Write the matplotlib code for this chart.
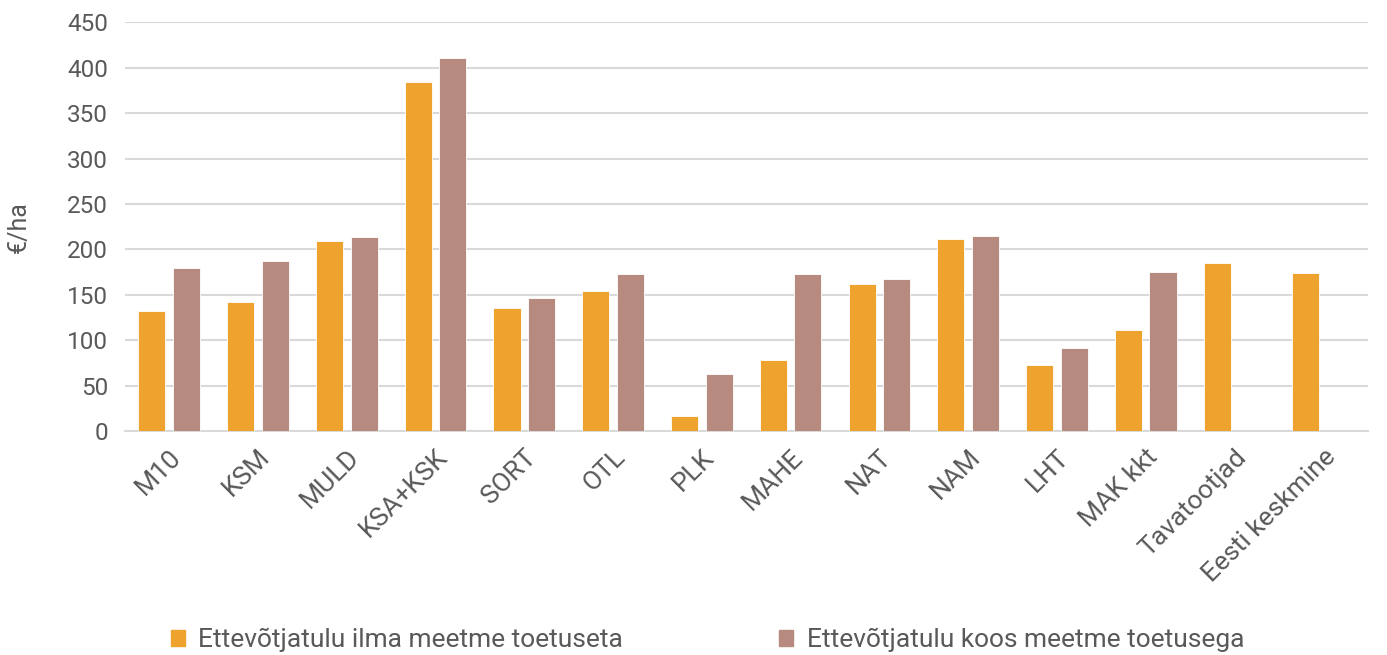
import numpy as np
import matplotlib
matplotlib.use("Agg")
import matplotlib.pyplot as plt
from matplotlib.patches import Patch

plt.rcParams["font.family"] = ["Roboto", "DejaVu Sans"]

categories = ["M10", "KSM", "MULD", "KSA+KSK", "SORT", "OTL", "PLK", "MAHE",
              "NAT", "NAM", "LHT", "MAK kkt", "Tavatootjad", "Eesti keskmine"]
ilma_toetuseta = [132, 142, 209, 384, 135, 154, 16, 78, 162, 211, 73, 111, 185, 174]
koos_toetusega = [179, 187, 214, 411, 146, 173, 63, 173, 167, 215, 91, 175, np.nan, np.nan]
yticks = list(range(0, 451, 50))

orange = "#EFA32F"
brown = "#B68A7E"
txt = "#595959"
grid = "#D9D9D9"

fig = plt.figure(figsize=(13.87, 6.55), dpi=100)
ax = fig.add_axes([0.090, 0.342, 0.896, 0.624])

x = np.arange(len(categories))
ax.bar(x - 0.195, ilma_toetuseta, width=0.305, color=orange, edgecolor="white", linewidth=0.6, zorder=3)
ax.bar(x + 0.195, koos_toetusega, width=0.305, color=brown, edgecolor="white", linewidth=0.6, zorder=3)

ax.set_xlim(-0.5, len(categories) - 0.5)
ax.set_ylim(0, 450)
ax.set_yticks(yticks)
ax.yaxis.grid(True, color=grid, linewidth=1.5, zorder=0)
ax.set_axisbelow(True)
for s in ["top", "right", "left"]:
    ax.spines[s].set_visible(False)
ax.spines["bottom"].set_color(grid)
ax.spines["bottom"].set_linewidth(1.5)
ax.tick_params(axis="both", length=0, labelcolor=txt)
ax.tick_params(axis="y", labelsize=17.5, pad=12)

ax.set_xticks(x)
ax.set_xticklabels(categories, rotation=45, ha="right", rotation_mode="anchor")
ax.tick_params(axis="x", labelsize=19, pad=10)

ax.set_ylabel("€/ha", fontsize=18, color=txt, labelpad=26)

handles = [Patch(color=orange), Patch(color=brown)]
labels = ["Ettevõtjatulu ilma meetme toetuseta", "Ettevõtjatulu koos meetme toetusega"]
fig.legend(handles, labels, loc="center", bbox_to_anchor=(0.51, 0.023), ncol=2,
           frameon=False, fontsize=19, labelcolor=txt, handlelength=0.55, handleheight=0.55,
           handletextpad=0.5, columnspacing=5.9)

fig.savefig("out.png", dpi=100)
